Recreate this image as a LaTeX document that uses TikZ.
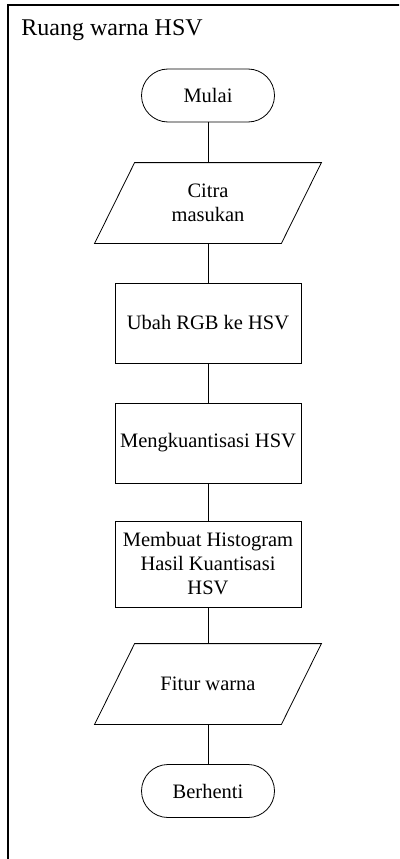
\documentclass[tikz,border=0pt]{standalone}
\usepackage{fontspec}
\setmainfont{Liberation Serif}
\begin{document}
\begin{tikzpicture}[x=1pt,y=-1pt,
  line width=0.8pt,
  txt/.style={font=\fontsize{20.5}{24}\selectfont, align=center, inner sep=0pt},
  terminal/.style={txt, draw, rounded corners=26.5pt, minimum width=133pt, minimum height=53pt},
  process/.style={txt, draw, minimum width=186pt, minimum height=80pt},
  iobox/.style={txt, minimum width=146pt, minimum height=80pt},
  ioframe/.style={draw},
  link/.style={draw}]
\useasboundingbox (0,0) rectangle (399,859);
\clip (0,0) rectangle (399,859);
% outer frame (open to the right and bottom)
\draw[line width=1.1pt] (8,880) -- (8,5) -- (420,5);
\node[anchor=base west, inner sep=0pt, font=\fontsize{24}{28}\selectfont] (title) at (21,35.7) {Ruang warna HSV};

\node[terminal] (mulai) at (208,95.5) {Mulai};
\node[iobox] (citra) at (208,203) {Citra\\masukan};
\draw[ioframe] (citra.north west) -- ([xshift=40pt]citra.north east) -- (citra.south east) -- ([xshift=-40pt]citra.south west) -- cycle;
\node[process] (ubah) at (208,323) {Ubah RGB ke HSV};
\node[process] (kuant) at (208,443) {Mengkuantisasi HSV};
\node[process, minimum height=86pt] (hist) at (208,564) {Membuat Histogram\\Hasil Kuantisasi\\HSV};
\node[iobox] (fitur) at (208,684) {Fitur warna};
\draw[ioframe] (fitur.north west) -- ([xshift=40pt]fitur.north east) -- (fitur.south east) -- ([xshift=-40pt]fitur.south west) -- cycle;
\node[terminal] (stop) at (208,791) {Berhenti};

\draw[link] (mulai.south) -- (citra.north);
\draw[link] (citra.south) -- (ubah.north);
\draw[link] (ubah.south) -- (kuant.north);
\draw[link] (kuant.south) -- (hist.north);
\draw[link] (hist.south) -- (fitur.north);
\draw[link] (fitur.south) -- (stop.north);
\end{tikzpicture}
\end{document}
